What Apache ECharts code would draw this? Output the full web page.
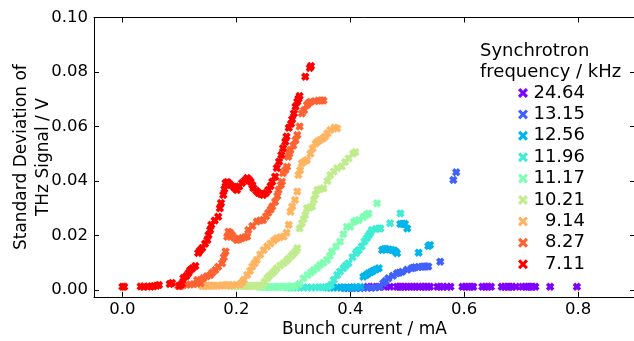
<!DOCTYPE html>
<html>
<head>
<meta charset="utf-8">
<script src="https://cdn.jsdelivr.net/npm/echarts@6.0.0/dist/echarts.min.js"></script>
<style>
  html, body { margin: 0; padding: 0; background: #fff; }
  #chart { width: 634px; height: 341px; }
</style>
</head>
<body>
<div id="chart"></div>
<script>
// legend labels, drawn in this order (last on top)
const freqLabels = ["24.64", "13.15", "12.56", "11.96", "11.17", "10.21", "9.14", "8.27", "7.11"];

// [bunch current mA, std dev V]
const s2464 = [[0.43,0.0012],[0.44,0.0012],[0.45,0.0012],[0.46,0.0012],[0.47,0.0012],[0.482,0.0012],[0.486,0.0012],[0.49,0.0012],[0.495,0.0012],[0.5,0.0012],[0.505,0.0012],[0.51,0.0012],[0.515,0.0012],[0.52,0.0012],[0.526,0.0012],[0.53,0.0012],[0.536,0.0012],[0.54,0.0012],[0.553,0.0012],[0.558,0.0012],[0.563,0.0012],[0.57,0.0012],[0.576,0.0012],[0.597,0.0012],[0.602,0.0012],[0.607,0.0012],[0.612,0.0012],[0.616,0.0012],[0.632,0.0012],[0.637,0.0012],[0.642,0.0012],[0.647,0.0012],[0.666,0.0012],[0.671,0.0012],[0.676,0.0012],[0.68,0.0012],[0.684,0.0012],[0.691,0.0012],[0.702,0.0012],[0.707,0.0012],[0.712,0.0012],[0.716,0.0012],[0.72,0.0012],[0.725,0.0012],[0.751,0.0012],[0.798,0.0012]];
const s1315 = [[0.39,0.0007],[0.395,0.0007],[0.4,0.0007],[0.405,0.0007],[0.41,0.0007],[0.418,0.0007],[0.424,0.0008],[0.43,0.0008],[0.437,0.0008],[0.444,0.0009],[0.452,0.0012],[0.458,0.0025],[0.462,0.0033],[0.467,0.0043],[0.475,0.0052],[0.482,0.0061],[0.486,0.0063],[0.491,0.0067],[0.5,0.0074],[0.508,0.008],[0.511,0.0082],[0.514,0.0083],[0.52,0.0084],[0.525,0.0085],[0.529,0.0086],[0.533,0.0086],[0.537,0.0086],[0.558,0.0104],[0.581,0.0404],[0.586,0.0432]];
const s1256 = [[0.36,0.0009],[0.365,0.0009],[0.37,0.0009],[0.377,0.0009],[0.383,0.0009],[0.388,0.0009],[0.394,0.0009],[0.4,0.0009],[0.405,0.001],[0.41,0.001],[0.418,0.0011],[0.423,0.0049],[0.428,0.0055],[0.432,0.0061],[0.436,0.0065],[0.44,0.007],[0.445,0.0075],[0.45,0.008],[0.456,0.0147],[0.46,0.015],[0.463,0.015],[0.468,0.0149],[0.473,0.0147],[0.477,0.0145],[0.48,0.014],[0.482,0.0135],[0.488,0.0242],[0.492,0.0243],[0.496,0.0242],[0.5,0.0226],[0.52,0.0137],[0.537,0.0161],[0.54,0.0165]];
const s1196 = [[0.29,0.0009],[0.295,0.0009],[0.3,0.0009],[0.306,0.0009],[0.312,0.0009],[0.318,0.0009],[0.325,0.0009],[0.332,0.0009],[0.339,0.0009],[0.345,0.001],[0.35,0.001],[0.356,0.001],[0.361,0.0011],[0.366,0.0018],[0.371,0.0037],[0.377,0.0055],[0.382,0.0068],[0.388,0.008],[0.392,0.009],[0.397,0.0098],[0.404,0.012],[0.41,0.0135],[0.412,0.0141],[0.415,0.0147],[0.42,0.016],[0.425,0.0178],[0.429,0.019],[0.432,0.02],[0.435,0.0208],[0.438,0.022],[0.445,0.0224],[0.45,0.0226],[0.453,0.0226],[0.47,0.0245],[0.488,0.0281]];
const s1117 = [[0.24,0.0011],[0.245,0.0011],[0.25,0.0011],[0.254,0.0011],[0.258,0.0011],[0.263,0.0011],[0.268,0.0011],[0.272,0.0011],[0.276,0.0012],[0.28,0.0012],[0.285,0.0012],[0.29,0.0012],[0.295,0.0013],[0.299,0.0013],[0.303,0.0013],[0.31,0.0022],[0.318,0.0043],[0.325,0.0055],[0.331,0.0064],[0.336,0.0073],[0.342,0.0082],[0.347,0.0092],[0.353,0.01],[0.359,0.011],[0.364,0.0125],[0.368,0.0141],[0.375,0.016],[0.382,0.0177],[0.388,0.0205],[0.394,0.0232],[0.4,0.0232],[0.406,0.025],[0.41,0.0254],[0.415,0.0257],[0.423,0.0268],[0.428,0.0275],[0.432,0.0281],[0.447,0.0318]];
const s1021 = [[0.19,0.0014],[0.195,0.0014],[0.2,0.0015],[0.204,0.0015],[0.207,0.0015],[0.211,0.0015],[0.215,0.0015],[0.219,0.0015],[0.222,0.0015],[0.225,0.0015],[0.228,0.0015],[0.232,0.0016],[0.236,0.0016],[0.239,0.0016],[0.242,0.0016],[0.246,0.0018],[0.25,0.003],[0.254,0.0043],[0.258,0.0052],[0.263,0.0061],[0.267,0.007],[0.271,0.008],[0.277,0.009],[0.283,0.0098],[0.288,0.0107],[0.292,0.0116],[0.297,0.0126],[0.301,0.0135],[0.305,0.0144],[0.307,0.0153],[0.311,0.0226],[0.315,0.0245],[0.318,0.026],[0.321,0.0275],[0.324,0.03],[0.329,0.0303],[0.333,0.0306],[0.336,0.033],[0.339,0.035],[0.342,0.0367],[0.347,0.037],[0.353,0.0373],[0.36,0.04],[0.365,0.0422],[0.371,0.0435],[0.377,0.0447],[0.385,0.0453],[0.391,0.047],[0.397,0.0483],[0.405,0.05],[0.409,0.0506]];
const s914 = [[0.14,0.0015],[0.144,0.0015],[0.148,0.0016],[0.151,0.0016],[0.154,0.0016],[0.158,0.0016],[0.162,0.0016],[0.167,0.0016],[0.172,0.0016],[0.176,0.0017],[0.18,0.0017],[0.184,0.0017],[0.188,0.0017],[0.193,0.0018],[0.2,0.0019],[0.206,0.002],[0.21,0.0028],[0.213,0.0037],[0.219,0.0055],[0.224,0.007],[0.228,0.0086],[0.232,0.0098],[0.236,0.011],[0.242,0.013],[0.248,0.0147],[0.254,0.016],[0.26,0.0171],[0.266,0.0182],[0.271,0.019],[0.277,0.0194],[0.283,0.0196],[0.288,0.021],[0.292,0.0239],[0.295,0.0287],[0.298,0.0306],[0.303,0.033],[0.307,0.0361],[0.309,0.0422],[0.312,0.044],[0.315,0.0465],[0.32,0.0472],[0.324,0.0477],[0.33,0.05],[0.334,0.052],[0.339,0.0538],[0.343,0.0545],[0.347,0.055],[0.352,0.0556],[0.356,0.0563],[0.36,0.0575],[0.365,0.0587],[0.372,0.0596],[0.377,0.0593]];
const s827 = [[0.098,0.0015],[0.103,0.0016],[0.107,0.0018],[0.113,0.0019],[0.119,0.002],[0.125,0.0021],[0.131,0.0024],[0.137,0.0025],[0.131,0.0037],[0.142,0.0043],[0.148,0.005],[0.154,0.0055],[0.158,0.0064],[0.163,0.0073],[0.168,0.0085],[0.175,0.0098],[0.178,0.012],[0.181,0.0141],[0.184,0.0195],[0.186,0.0214],[0.189,0.021],[0.192,0.0202],[0.196,0.0192],[0.201,0.0183],[0.205,0.0186],[0.21,0.0191],[0.215,0.0194],[0.219,0.0196],[0.221,0.022],[0.228,0.0235],[0.236,0.0251],[0.242,0.0255],[0.247,0.0257],[0.252,0.027],[0.256,0.0283],[0.26,0.0295],[0.263,0.0306],[0.268,0.0324],[0.272,0.0345],[0.274,0.0367],[0.278,0.0385],[0.28,0.0397],[0.282,0.0429],[0.286,0.044],[0.289,0.0452],[0.291,0.0489],[0.293,0.05],[0.295,0.0514],[0.3,0.053],[0.304,0.055],[0.307,0.0569],[0.311,0.06],[0.315,0.0648],[0.319,0.066],[0.324,0.0679],[0.327,0.0686],[0.33,0.0691],[0.338,0.0693],[0.344,0.0695],[0.349,0.0695],[0.353,0.0695]];
const s711 = [[0.0,0.0012],[0.003,0.0012],[0.032,0.0013],[0.037,0.0012],[0.045,0.0013],[0.05,0.0013],[0.055,0.0014],[0.06,0.0016],[0.064,0.0018],[0.083,0.0022],[0.087,0.0026],[0.1,0.0015],[0.104,0.0022],[0.107,0.0044],[0.112,0.0051],[0.116,0.0062],[0.119,0.0073],[0.123,0.008],[0.128,0.0088],[0.133,0.0136],[0.136,0.0145],[0.14,0.0154],[0.145,0.017],[0.149,0.0183],[0.151,0.0202],[0.154,0.022],[0.156,0.0239],[0.162,0.0255],[0.168,0.0269],[0.171,0.03],[0.173,0.0319],[0.177,0.0349],[0.179,0.037],[0.181,0.0393],[0.184,0.0396],[0.186,0.0393],[0.19,0.0385],[0.195,0.0379],[0.198,0.0372],[0.201,0.0367],[0.205,0.038],[0.21,0.0393],[0.215,0.0402],[0.219,0.0411],[0.222,0.0405],[0.225,0.0397],[0.228,0.0385],[0.23,0.0374],[0.235,0.0364],[0.239,0.0356],[0.243,0.0352],[0.247,0.0349],[0.252,0.0356],[0.256,0.0367],[0.26,0.0382],[0.263,0.0397],[0.268,0.0416],[0.271,0.0448],[0.275,0.0471],[0.279,0.0495],[0.282,0.052],[0.286,0.0544],[0.288,0.0563],[0.292,0.0595],[0.296,0.061],[0.298,0.0626],[0.301,0.0648],[0.304,0.0673],[0.307,0.0691],[0.309,0.0702],[0.311,0.0712],[0.321,0.0783],[0.329,0.0815],[0.331,0.0822]];

const seriesData = [s2464, s1315, s1256, s1196, s1117, s1021, s914, s827, s711];

const xTicks = [0.0, 0.2, 0.4, 0.6, 0.8];
const yTicks = [0.0, 0.02, 0.04, 0.06, 0.08, 0.1];

// rainbow colormap samples
const colors = ["#8000ff", "#4062fa", "#00b4ec", "#40ecd4", "#80ffb4", "#c0ec8e", "#ffb462", "#ff6232", "#ff0000"];

const font = "DejaVu Sans";
// thin x for the legend, fat x for the scatter marks
const xIcon = "path://M0,2.2L2.2,0L5,2.8L7.8,0L10,2.2L7.2,5L10,7.8L7.8,10L5,7.2L2.2,10L0,7.8L2.8,5Z";
const xMark = "path://M0,3L3,0L5,2L7,0L10,3L8,5L10,7L7,10L5,8L3,10L0,7L2,5Z";

const chart = echarts.init(document.getElementById("chart"));

const axisLine = { show: true, onZero: false, lineStyle: { color: "#000", width: 1 } };
const tickStyle = (vals) => ({ inside: true, length: 5, lineStyle: { color: "#000" }, customValues: vals });

const option = {
  animation: false,
  backgroundColor: "#fff",
  textStyle: { fontFamily: font },
  title: {
    text: "Synchrotron\nfrequency / kHz",
    left: 480,
    top: 41,
    padding: 0,
    textStyle: { fontFamily: font, fontSize: 18, fontWeight: "normal", color: "#000", lineHeight: 21 },
  },
  legend: {
    orient: "vertical",
    left: 518,
    top: 84,
    padding: 0,
    itemWidth: 10,
    itemHeight: 10,
    itemGap: 3.4,
    icon: xIcon,
    data: freqLabels,
    formatter: (name) => "{v|" + name + "}",
    textStyle: {
      color: "#000",
      fontFamily: font,
      fontSize: 18,
      lineHeight: 18,
      rich: { v: { width: 52, align: "right", fontSize: 18, fontFamily: font, color: "#000", lineHeight: 18 } },
    },
  },
  grid: { left: 94, right: -1, top: 17.5, bottom: 44.2, outerBoundsMode: "none", containLabel: false },
  xAxis: [
    {
      type: "value",
      min: -0.05,
      max: 0.9,
      position: "bottom",
      axisLine,
      splitLine: { show: false },
      axisTick: tickStyle(xTicks),
      axisLabel: {
        customValues: xTicks,
        formatter: (v) => v.toFixed(1),
        color: "#000",
        fontFamily: font,
        fontSize: 16.5,
        margin: 4,
      },
      name: "Bunch current / mA",
      nameLocation: "middle",
      nameGap: 24,
      nameMoveOverlap: false,
      nameTextStyle: { color: "#000", fontFamily: font, fontSize: 17 },
    },
    {
      type: "value",
      min: -0.05,
      max: 0.9,
      position: "top",
      axisLine,
      splitLine: { show: false },
      axisTick: tickStyle(xTicks),
      axisLabel: { show: false },
    },
  ],
  yAxis: [
    {
      type: "value",
      min: -0.0025,
      max: 0.1,
      position: "left",
      axisLine,
      splitLine: { show: false },
      axisTick: tickStyle(yTicks),
      axisLabel: {
        customValues: yTicks,
        formatter: (v) => v.toFixed(2),
        color: "#000",
        fontFamily: font,
        fontSize: 16.5,
        margin: 6,
      },
      name: "Standard Deviation of\nTHz Signal / V",
      nameLocation: "middle",
      nameGap: 39,
      nameRotate: 90,
      nameMoveOverlap: false,
      nameTextStyle: { color: "#000", fontFamily: font, fontSize: 17, lineHeight: 22 },
    },
    {
      type: "value",
      min: -0.0025,
      max: 0.1,
      position: "right",
      axisLine,
      splitLine: { show: false },
      axisTick: tickStyle(yTicks),
      axisLabel: { show: false },
    },
  ],
  series: seriesData.map((d, i) => ({
    name: freqLabels[i],
    type: "scatter",
    xAxisIndex: 0,
    yAxisIndex: 0,
    data: d,
    symbol: xMark,
    symbolSize: 8.5,
    itemStyle: { color: colors[i], opacity: 1 },
    emphasis: { disabled: true },
    silent: true,
  })),
};

chart.setOption(option);
</script>
</body>
</html>
